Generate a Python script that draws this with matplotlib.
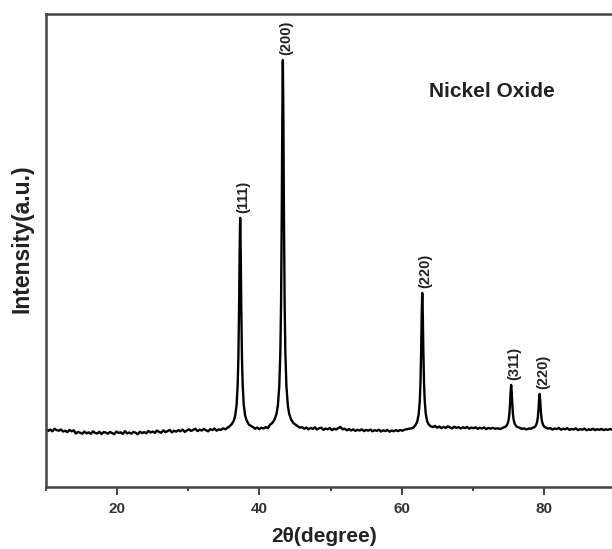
import matplotlib
matplotlib.use("Agg")
import matplotlib.pyplot as plt
from matplotlib.ticker import MultipleLocator
import numpy as np

plt.rcParams['font.family'] = ['Liberation Sans', 'DejaVu Sans']

# XRD pattern (2theta in degrees, intensity in arbitrary counts)
two_theta = [
    10.0, 10.3, 10.6, 10.9, 11.2, 11.5, 11.8, 12.1, 12.4, 12.7, 13.0, 13.3, 13.6, 13.9,
    14.2, 14.5, 14.8, 15.1, 15.4, 15.7, 16.0, 16.3, 16.6, 16.9, 17.2, 17.5, 17.8, 18.1,
    18.4, 18.7, 19.0, 19.3, 19.6, 19.9, 20.2, 20.5, 20.8, 21.1, 21.4, 21.7, 22.0, 22.3,
    22.6, 22.9, 23.2, 23.5, 23.8, 24.1, 24.4, 24.7, 25.0, 25.3, 25.6, 25.9, 26.2, 26.5,
    26.8, 27.1, 27.4, 27.7, 28.0, 28.3, 28.6, 28.9, 29.2, 29.5, 29.8, 30.1, 30.4, 30.7,
    31.0, 31.3, 31.6, 31.9, 32.2, 32.5, 32.8, 33.1, 33.4, 33.7, 34.0, 34.3, 34.6, 34.9,
    35.2, 35.5, 35.8, 36.1, 36.4, 36.6, 36.8, 36.95, 37.05, 37.15, 37.22, 37.3, 37.38,
    37.45, 37.55, 37.65, 37.8, 38.0, 38.2, 38.5, 38.8, 39.1, 39.4, 39.7, 40.0, 40.3,
    40.6, 40.9, 41.2, 41.5, 41.8, 42.1, 42.4, 42.6, 42.8, 42.95, 43.05, 43.15, 43.22,
    43.3, 43.38, 43.45, 43.55, 43.65, 43.8, 44.0, 44.2, 44.5, 44.8, 45.1, 45.4, 45.7,
    46.0, 46.3, 46.6, 46.9, 47.2, 47.5, 47.8, 48.1, 48.4, 48.7, 49.0, 49.3, 49.6, 49.9,
    50.2, 50.5, 50.8, 51.1, 51.4, 51.7, 52.0, 52.3, 52.6, 52.9, 53.2, 53.5, 53.8, 54.1,
    54.4, 54.7, 55.0, 55.3, 55.6, 55.9, 56.2, 56.5, 56.8, 57.1, 57.4, 57.7, 58.0, 58.3,
    58.6, 58.9, 59.2, 59.5, 59.8, 60.1, 60.5, 61.1, 61.4, 61.7, 62.0, 62.2, 62.4, 62.55,
    62.65, 62.75, 62.82, 62.9, 62.98, 63.05, 63.15, 63.25, 63.4, 63.6, 63.8, 64.1, 64.4,
    64.7, 65.0, 65.3, 65.6, 65.9, 66.2, 66.5, 66.8, 67.1, 67.4, 67.7, 68.0, 68.3, 68.6,
    68.9, 69.2, 69.5, 69.8, 70.1, 70.4, 70.7, 71.0, 71.3, 71.6, 71.9, 72.2, 72.5, 72.8,
    73.1, 73.5, 73.9, 74.2, 74.5, 74.7, 74.9, 75.05, 75.15, 75.25, 75.32, 75.4, 75.48,
    75.55, 75.65, 75.75, 75.9, 76.1, 76.3, 76.6, 76.9, 77.2, 77.5, 77.9, 78.2, 78.5,
    78.7, 78.9, 79.05, 79.15, 79.25, 79.32, 79.4, 79.48, 79.55, 79.65, 79.75, 79.9,
    80.1, 80.3, 80.6, 80.9, 81.2, 81.5, 81.8, 82.1, 82.4, 82.7, 83.0, 83.3, 83.6, 83.9,
    84.2, 84.5, 84.8, 85.1, 85.4, 85.7, 86.0, 86.3, 86.6, 86.9, 87.2, 87.5, 87.8, 88.1,
    88.4, 88.7, 89.0, 89.3, 89.6, 89.9,
]
intensity = [
    504, 495, 502, 493, 506, 499, 496, 502, 492, 496, 489, 500, 493, 498,
    482, 490, 486, 481, 492, 483, 488, 480, 493, 485, 482, 491, 479, 489,
    487, 481, 490, 484, 479, 492, 485, 488, 480, 494, 483, 487, 481, 490,
    486, 478, 491, 484, 489, 483, 495, 487, 492, 485, 497, 490, 486, 498,
    489, 494, 500, 488, 496, 491, 499, 493, 502, 490, 497, 503, 495, 500,
    506, 494, 501, 497, 505, 498, 493, 504, 499, 507, 496, 503, 500, 508,
    503, 510, 518, 528, 546, 571, 626, 726, 865, 1128, 1386, 1560, 1386,
    1128, 865, 726, 626, 571, 548, 528, 520, 514, 506, 512, 504, 511,
    507, 514, 509, 526, 534, 549, 579, 622, 720, 893, 1136, 1595, 2046,
    2350, 2046, 1595, 1136, 893, 720, 622, 579, 549, 534, 526, 518, 511,
    514, 506, 512, 503, 510, 505, 513, 502, 508, 511, 500, 507, 503, 510,
    499, 506, 502, 509, 515, 503, 506, 498, 504, 497, 503, 495, 501, 497,
    503, 494, 500, 496, 502, 493, 499, 495, 501, 492, 498, 494, 500, 491,
    497, 493, 499, 494, 500, 496, 502, 506, 508, 513, 527, 542, 579, 643,
    734, 904, 1072, 1185, 1072, 904, 734, 643, 579, 542, 527, 518, 514,
    520, 511, 517, 509, 515, 510, 518, 512, 508, 516, 510, 514, 507, 513,
    509, 515, 506, 512, 508, 513, 505, 511, 507, 512, 504, 510, 506, 511,
    506, 508, 504, 511, 514, 519, 530, 551, 580, 635, 689, 725, 689,
    635, 580, 551, 530, 519, 514, 511, 505, 508, 502, 507, 506, 512,
    514, 524, 540, 563, 607, 651, 680, 651, 607, 563, 540, 524,
    514, 512, 506, 509, 502, 507, 504, 510, 501, 506, 503, 509, 500, 505,
    502, 508, 499, 504, 501, 507, 498, 503, 500, 506, 499, 504, 500, 505,
    499, 503, 500, 505, 501, 503,
]

peak_positions = [37.3, 43.3, 62.9, 75.4, 79.4]
peak_labels = ["(111)", "(200)", "(220)", "(311)", "(220)"]

x_range = (10, 90)
y_range = (216, 2580)
major_ticks = [20, 40, 60, 80]

fig = plt.figure(figsize=(6.12, 5.49), dpi=100)
ax = fig.add_axes([46 / 612, 62.3 / 549, 569 / 612, 472.7 / 549])

tt = np.array(two_theta)
ii = np.array(intensity)
ax.plot(tt, ii, color='black', lw=1.7, solid_joinstyle='round')

for pos, lab in zip(peak_positions, peak_labels):
    mask = np.abs(tt - pos) < 0.3
    top = ii[mask].max()
    ax.annotate(lab, xy=(pos, top), xytext=(2.5, 3.5), textcoords='offset points',
                rotation=90, ha='center', va='bottom', fontsize=10.5,
                fontweight='bold', color='#222222')

ax.text(0.783, 0.836, "Nickel Oxide", transform=ax.transAxes, fontsize=15,
        fontweight='bold', color='#222222', ha='center', va='center')

ax.set_xlim(*x_range)
ax.set_ylim(*y_range)
ax.set_xticks(major_ticks)
ax.xaxis.set_minor_locator(MultipleLocator(10))
ax.set_yticks([])
ax.tick_params(axis='x', which='major', direction='out', length=6, width=1.3,
               pad=5, labelsize=11, colors='#333333')
ax.tick_params(axis='x', which='minor', direction='out', length=3, width=1.3,
               colors='#333333')
for lbl in ax.get_xticklabels():
    lbl.set_fontweight('bold')
for sp in ax.spines.values():
    sp.set_linewidth(1.8)
    sp.set_color('#444444')

ax.set_xlabel("2θ(degree)", fontsize=15, fontweight='bold', color='#222222',
              labelpad=8)
ax.xaxis.set_label_coords(0.489, -0.085)
fig.text(22 / 612, 1 - 239 / 549, "Intensity(a.u.)", rotation=90, fontsize=16.5,
         fontweight='bold', color='#222222', ha='center', va='center')

fig.savefig("out.png", dpi=100)
